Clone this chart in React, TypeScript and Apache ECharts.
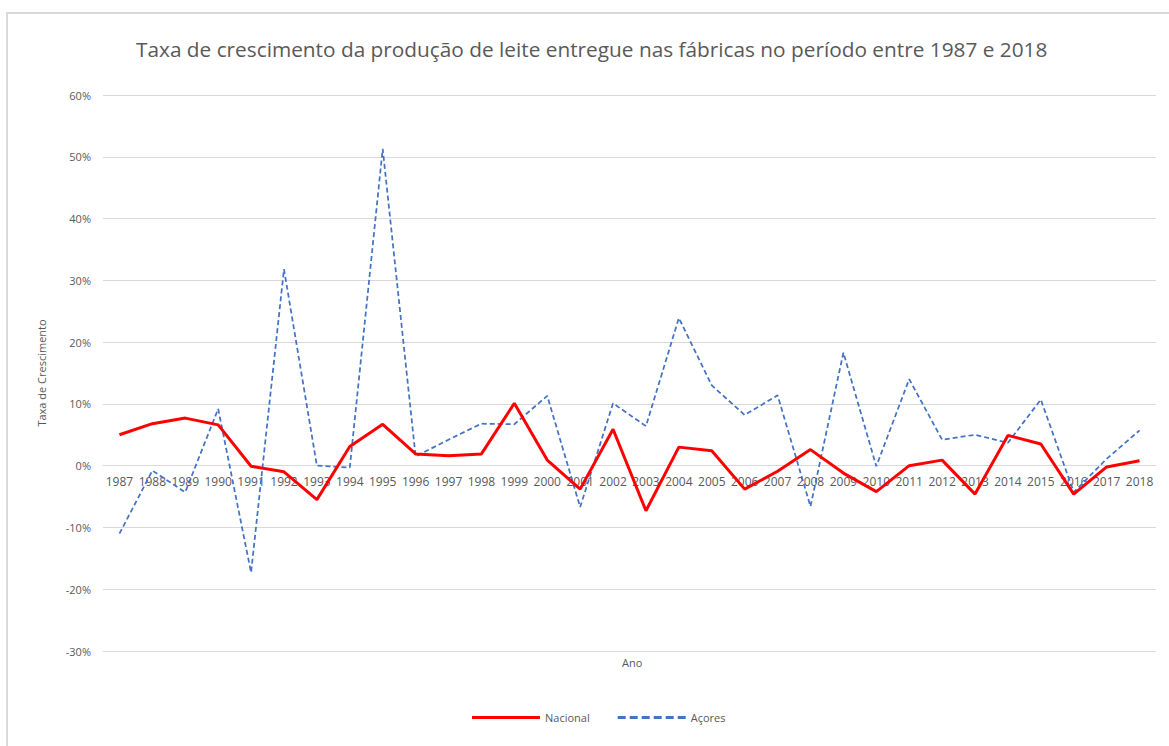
import React, { useEffect, useRef } from "react";
import * as echarts from "echarts";

const years = [
  "1987","1988","1989","1990","1991","1992","1993","1994","1995","1996","1997","1998",
  "1999","2000","2001","2002","2003","2004","2005","2006","2007","2008","2009","2010",
  "2011","2012","2013","2014","2015","2016","2017","2018",
];

const nacional = [
  5.0, 6.8, 7.7, 6.6, -0.1, -1.0, -5.5, 3.1, 6.7, 1.9, 1.6, 1.9,
  10.1, 0.9, -3.8, 5.9, -7.3, 3.0, 2.4, -3.8, -0.9, 2.6, -1.2, -4.2,
  0.0, 0.9, -4.6, 4.9, 3.5, -4.6, -0.2, 0.8,
];

const acores = [
  -11.0, -0.8, -4.3, 9.2, -17.3, 31.8, 0.0, -0.3, 51.3, 1.5, 4.2, 6.8,
  6.7, 11.3, -6.7, 10.1, 6.4, 23.9, 13.0, 8.2, 11.4, -6.6, 18.3, -0.1,
  14.0, 4.2, 5.0, 3.7, 10.7, -4.3, 1.1, 5.7,
];

const yTicks = { min: -30, max: 60, interval: 10 };

const FONT = "'Open Sans', 'Noto Sans', sans-serif";
const GREY = "#595959";

const W = 1169;
const H = 746;
const GRID = { left: 103, right: 13, top: 95, bottom: 95 };
const gridHeight = H - GRID.top - GRID.bottom;
// place the category axis at the value 0 (Excel style: axis crosses at 0)
const zeroOffset = -gridHeight * (0 - yTicks.min) / (yTicks.max - yTicks.min);

const dashedIcon =
  "path://M0,0 L8,0 L8,3 L0,3 Z M12,0 L20,0 L20,3 L12,3 Z M24,0 L32,0 L32,3 L24,3 Z " +
  "M36,0 L44,0 L44,3 L36,3 Z M48,0 L56,0 L56,3 L48,3 Z M60,0 L68,0 L68,3 L60,3 Z";
const solidIcon = "path://M0,0 L68,0 L68,3 L0,3 Z";

export default function App() {
  const ref = useRef<HTMLDivElement>(null);

  useEffect(() => {
    document.body.style.margin = "0";
    const chart = echarts.init(ref.current!, undefined, { renderer: "svg" });
    chart.setOption({
      animation: false,
      backgroundColor: "#ffffff",
      title: {
        text: "Taxa de crescimento da produção de leite entregue nas fábricas no período entre 1987 e 2018",
        left: 131,
        top: 33,
        textStyle: {
          fontFamily: FONT,
          fontSize: 20.8,
          fontWeight: "normal",
          color: GREY,
        },
      },
      graphic: [
        {
          type: "rect",
          shape: { x: 7, y: 13, width: 1175, height: 760 },
          style: { fill: "none", stroke: "#d9d9d9", lineWidth: 2 },
          silent: true,
        },
        {
          type: "text",
          left: 622,
          top: 657,
          style: { text: "Ano", fontFamily: FONT, fontSize: 11, fill: GREY },
          silent: true,
        },
      ],
      grid: {
        ...GRID,
        containLabel: false,
        outerBoundsMode: "none",
      },
      legend: {
        bottom: 18,
        left: 467,
        itemWidth: 68,
        itemHeight: 3,
        itemGap: 28,
        textStyle: { fontFamily: FONT, fontSize: 11, color: GREY },
        data: [
          { name: "Nacional", icon: solidIcon },
          { name: "Açores", icon: dashedIcon },
        ],
      },
      xAxis: {
        type: "category",
        data: years,
        boundaryGap: true,
        position: "bottom",
        offset: zeroOffset,
        axisLine: { onZero: false, lineStyle: { color: "#d9d9d9", width: 1 } },
        axisTick: { show: false },
        axisLabel: {
          fontFamily: FONT,
          fontSize: 12,
          color: GREY,
          interval: 0,
          margin: 10,
        },
        splitLine: { show: false },
      },
      yAxis: {
        type: "value",
        min: yTicks.min,
        max: yTicks.max,
        interval: yTicks.interval,
        name: "Taxa de Crescimento",
        nameLocation: "middle",
        nameGap: 56,
        nameRotate: 90,
        nameTextStyle: { fontFamily: FONT, fontSize: 11, color: GREY },
        axisLine: { show: false },
        axisTick: { show: false },
        axisLabel: {
          fontFamily: FONT,
          fontSize: 11,
          color: GREY,
          margin: 12,
          formatter: (v: number) => `${v}%`,
        },
        splitLine: { lineStyle: { color: "#d9d9d9", width: 1 } },
      },
      series: [
        {
          name: "Nacional",
          type: "line",
          data: nacional,
          symbol: "none",
          lineStyle: { color: "#ff0000", width: 3 },
          itemStyle: { color: "#ff0000" },
          z: 3,
        },
        {
          name: "Açores",
          type: "line",
          data: acores,
          symbol: "none",
          lineStyle: { color: "#4472c4", width: 1.75, type: [5, 3] },
          itemStyle: { color: "#4472c4" },
          z: 2,
        },
      ],
    });
    return () => chart.dispose();
  }, []);

  return <div ref={ref} style={{ width: W, height: H }} />;
}
